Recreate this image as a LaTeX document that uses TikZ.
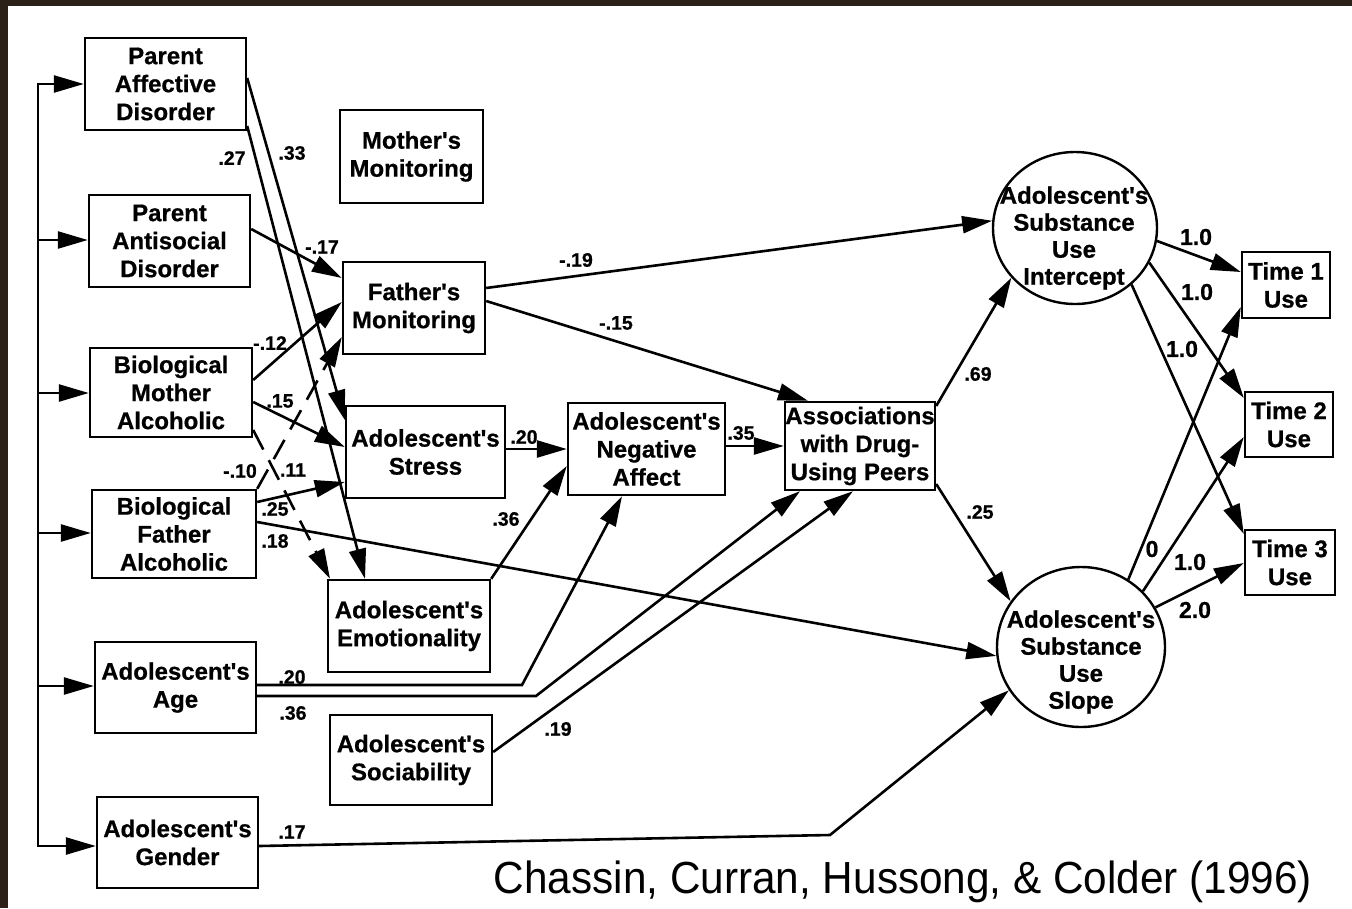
\documentclass[tikz,border=0pt]{standalone}
\usepackage{fontspec}
\setmainfont{Liberation Sans}
\newfontfamily\heavy[FakeBold=0.7]{Liberation Sans Bold}
\newfontfamily\citefont[FakeStretch=0.94]{Liberation Sans}
\usetikzlibrary{arrows.meta,shapes.geometric,calc}
\definecolor{frame}{HTML}{2B2118}
\newcommand{\ap}{\textquotesingle}
\tikzset{
  box/.style={draw, line width=2.4pt, inner sep=0pt, align=center, font=\heavy\fontsize{24}{28}\selectfont},
  lat/.style={ellipse, draw, line width=2.4pt, inner sep=0pt},
  lattext/.style={inner sep=0pt, align=center, font=\heavy\fontsize{24}{27}\selectfont},
  conn/.style={line width=2.6pt, -{Triangle[length=30pt,width=17pt]}},
  dconn/.style={conn, dash pattern=on 22pt off 12pt},
  lab/.style={inner sep=0pt, font=\heavy\fontsize{19.5}{19.5}\selectfont},
  blab/.style={inner sep=0pt, font=\heavy\fontsize{23}{23}\selectfont},
}
\begin{document}
\begin{tikzpicture}[x=1pt,y=-1pt]
\fill[white] (0,0) rectangle (1352,908);
\fill[frame] (0,0) rectangle (1352,6);
\fill[frame] (0,0) rectangle (8,908);
\useasboundingbox (0,0) rectangle (1352,908);

% boxes
\node[box, minimum width=161pt, minimum height=92pt] (pad) at (165.5,84) {Parent\\Affective\\Disorder};
\node[box, minimum width=161pt, minimum height=92pt] (pand) at (169.5,241) {Parent\\Antisocial\\Disorder};
\node[box, minimum width=143pt, minimum height=93pt] (mm) at (411.5,156.5) {Mother\ap s\\Monitoring};
\node[box, minimum width=142pt, minimum height=92pt] (fm) at (414,308) {Father\ap s\\Monitoring};
\node[box, minimum width=162pt, minimum height=89pt] (bm) at (171,392.5) {Biological\\Mother\\Alcoholic};
\node[box, minimum width=159pt, minimum height=92pt] (st) at (425.5,452) {Adolescent\ap s\\Stress};
\node[box, minimum width=157pt, minimum height=92pt] (na) at (646.5,449) {Adolescent\ap s\\Negative\\Affect};
\node[box, minimum width=150pt, minimum height=88pt] (as) at (860,446) {Associations\\with Drug-\\Using Peers};
\node[box, minimum width=164pt, minimum height=88pt] (bf) at (174,534) {Biological\\Father\\Alcoholic};
\node[box, minimum width=162pt, minimum height=92pt] (emo) at (409,626) {Adolescent\ap s\\Emotionality};
\node[box, minimum width=161pt, minimum height=91pt] (age) at (175.5,687.5) {Adolescent\ap s\\Age};
\node[box, minimum width=162pt, minimum height=90pt] (soc) at (411,760) {Adolescent\ap s\\Sociability};
\node[box, minimum width=161pt, minimum height=91pt] (gen) at (177.5,842.5) {Adolescent\ap s\\Gender};
\node[box, minimum width=88pt, minimum height=66pt] (t1) at (1286,285) {Time 1\\Use};
\node[box, minimum width=88pt, minimum height=65pt] (t2) at (1289,424.5) {Time 2\\Use};
\node[box, minimum width=90pt, minimum height=65pt] (t3) at (1290,562.5) {Time 3\\Use};
\node[lat, minimum width=164pt, minimum height=152pt] (int) at (1075,228) {};
\node[lattext] (intT) at (1074,238) {Adolescent\ap s\\Substance\\Use\\Intercept};
\node[lat, minimum width=168pt, minimum height=160pt] (slo) at (1081,647) {};
\node[lattext] (sloT) at (1081,662) {Adolescent\ap s\\Substance\\Use\\Slope};

% bus
\coordinate (b1) at (38,84);
\coordinate (b2) at (38,240);
\coordinate (b3) at (38,393);
\coordinate (b4) at (38,533);
\coordinate (b5) at (38,686);
\coordinate (b6) at (38,846);
\draw[line width=2.6pt, line cap=rect] (b1) -- (b6);
\draw[conn] (b1) -- (pad.west |- b1);
\draw[conn] (b2) -- (pand.west |- b2);
\draw[conn] (b3) -- (bm.west |- b3);
\draw[conn] (b4) -- (bf.west |- b4);
\draw[conn] (b5) -- (age.west |- b5);
\draw[conn] (b6) -- (gen.west |- b6);

% kink points
\coordinate (k1) at (522,685);
\coordinate (k2) at (536,696);
\coordinate (k3) at (830,835);

% connectors
\draw[conn] (pad.east |- 0,78) -- (st.west |- 0,420);
\draw[conn] (pad.east |- 0,126) -- (emo.north -| 365,0);
\draw[conn] (pand.east |- 0,229) -- (fm.west |- 0,278);
\draw[conn] (bm.east |- 0,380) -- (fm.west |- 0,302);
\draw[conn] (bm.east |- 0,402) -- (st.west |- 0,447);
\draw[dconn] (bm.east |- 0,430) -- (emo.north -| 330,0);
\draw[dconn] (bf.north east) -- (fm.west |- 0,337);
\draw[conn] (bf.east |- 0,502) -- (st.west |- 0,482);
\draw[conn] (bf.east |- 0,522) -- (slo.186);
\draw[conn] (fm.east |- 0,288) -- (int.175);
\draw[conn] (fm.east |- 0,301) -- (as.north -| 808,0);
\draw[conn] (st.east |- 0,449) -- (na.west |- 0,449);
\draw[conn] (na.east |- 0,446) -- (as.west |- 0,446);
\draw[conn] (emo.north east) -- (na.west |- 0,466);
\draw[conn] (age.east |- k1) -- (k1) -- (na.south -| 622,0);
\draw[conn] (age.east |- k2) -- (k2) -- (as.south -| 800,0);
\draw[conn] (soc.east |- 0,752) -- (as.south -| 853,0);
\draw[conn] (gen.east |- 0,846) -- (k3) -- (slo.211);
\draw[conn] (as.east |- 0,406) -- (int.218);
\draw[conn] (as.east |- 0,484) -- (slo.147);
\draw[conn] (int.-9) -- (t1.west |- 0,272);
\draw[conn] (int.-25) -- (t2.west |- 0,398);
\draw[conn] (int.-45) -- (t3.west |- 0,534);
\draw[conn] (slo.55) -- (t1.west |- 0,307);
\draw[conn] (slo.42) -- (t2.west |- 0,437);
\draw[conn] (slo.28) -- (t3.west |- 0,563);

% labels
\node[lab] (l1) at (292,153) {.33};
\node[lab] (l2) at (232,158) {.27};
\node[lab] (l3) at (322,247) {-.17};
\node[lab] (l4) at (270,343) {-.12};
\node[lab] (l5) at (280,401) {.15};
\node[lab] (l6) at (240,471) {-.10};
\node[lab] (l7) at (293,470) {.11};
\node[lab] (l8) at (275,509) {.25};
\node[lab] (l9) at (275,541) {.18};
\node[lab] (l10) at (576,260) {-.19};
\node[lab] (l11) at (616,323) {-.15};
\node[lab] (l12) at (524,437) {.20};
\node[lab] (l13) at (741,433) {.35};
\node[lab] (l14) at (506,519) {.36};
\node[lab] (l15) at (292,677) {.20};
\node[lab] (l16) at (293,713) {.36};
\node[lab] (l17) at (558,729) {.19};
\node[lab] (l18) at (292,832) {.17};
\node[lab] (l19) at (978,374) {.69};
\node[lab] (l20) at (980,512) {.25};
\node[blab] (l21) at (1196,237) {1.0};
\node[blab] (l22) at (1197,292) {1.0};
\node[blab] (l23) at (1182,349) {1.0};
\node[blab] (l24) at (1152,549) {0};
\node[blab] (l25) at (1190,562) {1.0};
\node[blab] (l26) at (1195,610) {2.0};

\node[inner sep=0pt, anchor=base, font=\citefont\fontsize{45}{45}\selectfont] (cite) at (903,893) {Chassin, Curran, Hussong, \& Colder (1996)};
\end{tikzpicture}
\end{document}
